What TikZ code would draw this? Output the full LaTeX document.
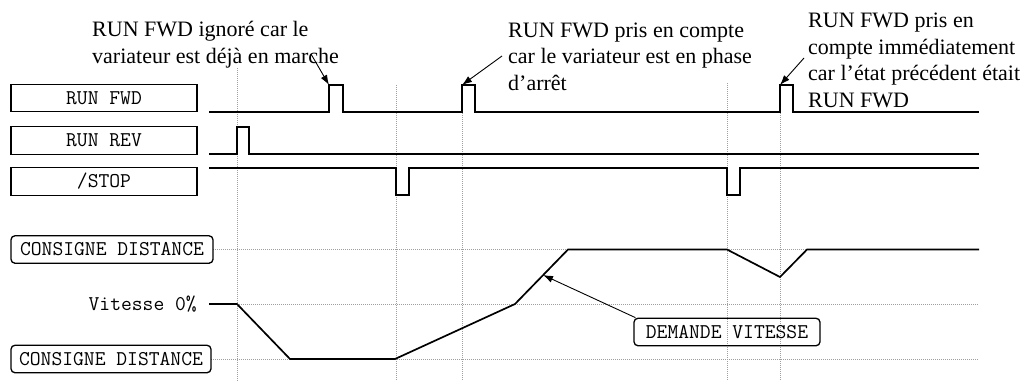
\documentclass[tikz,border=0pt]{standalone}
\usepackage{fontspec}
\setmainfont{Liberation Serif}
\usetikzlibrary{arrows.meta}
\begin{document}
\begin{tikzpicture}[x=1pt,y=-1pt,
  sigbox/.style={draw, line width=1.3pt, minimum width=186pt, minimum height=27.5pt, inner sep=0pt, font=\ttfamily\fontsize{21}{24}\selectfont},
  consbox/.style={draw, line width=1.3pt, rounded corners=4pt, minimum height=27.5pt, inner sep=0pt, font=\ttfamily\fontsize{21}{24}\selectfont},
  monotext/.style={inner sep=0pt, font=\ttfamily\fontsize{21}{24}\selectfont},
  note/.style={inner sep=0pt, align=left, anchor=base west, font=\fontsize{22}{26.5}\selectfont},
  signal/.style={line width=1.7pt, line join=miter},
  grid/.style={draw=gray!75, line width=0.6pt, dash pattern=on 1pt off 1pt},
  callout/.style={line width=0.9pt, -{Latex[length=10pt,width=7pt]}}]
\useasboundingbox (0,0) rectangle (1035,381);

% vertical dotted guides
\foreach \x/\y in {237/68, 396/85, 462/85, 727/83, 780/85}
  \draw[grid] (\x,\y) -- (\x,381);

% horizontal dotted guides
\draw[grid] (213,249.5) -- (979,249.5);
\draw[grid] (237,304) -- (979,304);
\draw[grid] (211,359) -- (979,359);

% signal labels
\node[sigbox] (fwd)  at (104,98)    {RUN FWD};
\node[sigbox] (rev)  at (104,140.5) {RUN REV};
\node[sigbox] (stop) at (104,181.5) {/STOP};

% waveforms
\draw[signal] (209,112) -- (329,112) -- (329,85) -- (343,85) -- (343,112)
  -- (462,112) -- (462,85) -- (475,85) -- (475,112)
  -- (780,112) -- (780,85) -- (793,85) -- (793,112) -- (979,112);
\draw[signal] (209,154) -- (237,154) -- (237,127) -- (249,127) -- (249,154) -- (979,154);
\draw[signal] (209,168) -- (396,168) -- (396,195) -- (409,195) -- (409,168)
  -- (727,168) -- (727,195) -- (740,195) -- (740,168) -- (979,168);

% speed section
\node[consbox, minimum width=202pt] (ctop) at (112,249.5) {CONSIGNE DISTANCE};
\node[consbox, minimum width=200pt] (cbot) at (111,359) {CONSIGNE DISTANCE};
\node[monotext, anchor=east] (v0) at (197,304) {Vitesse 0\%};
\draw[signal] (209,304) -- (237,304) -- (290,359) -- (395,359) -- (515,304)
  -- (568,249.5) -- (727,249.5) -- (780,277) -- (807,249.5) -- (979,249.5);

\node[consbox, minimum width=186pt] (dem) at (727,332) {DEMANDE VITESSE};
\coordinate (demtip) at (543,275);
\draw[callout] (dem.north west) ++(2,0) coordinate (demtail) -- (demtip);

% annotations (anchored on the baseline of their last line)
\node[note] (n1) at (92,63) {RUN FWD ignoré car le\\variateur est déjà en marche};
\node[note] (n2) at (508,90) {RUN FWD pris en compte\\car le variateur est en phase\\d’arrêt};
\node[note] (n3) at (808,107) {RUN FWD pris en\\compte immédiatement\\car l’état précédent était\\RUN FWD};

\coordinate (p1) at (329,85);
\coordinate (p2) at (462,85);
\coordinate (p3) at (780,85);
\coordinate (t1) at (311,54);
\coordinate (t2) at (502,56);
\coordinate (t3) at (804,58);
\draw[callout] (t1) -- (p1);
\draw[callout] (t2) -- (p2);
\draw[callout] (t3) -- (p3);
\end{tikzpicture}
\end{document}
